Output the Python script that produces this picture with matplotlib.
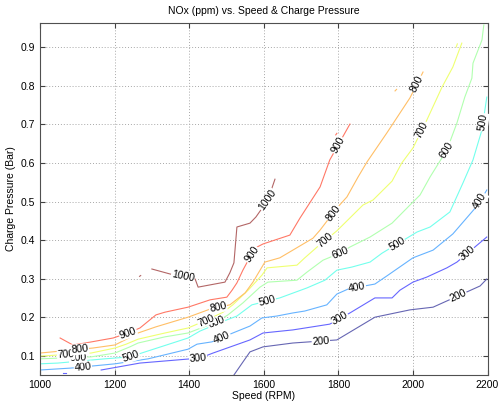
import numpy as np
import matplotlib
matplotlib.use("Agg")
import matplotlib.pyplot as plt

plt.rcParams['font.family'] = ['Liberation Sans', 'DejaVu Sans']

# NOx iso-lines (ppm) traced over the speed / charge-pressure map
levels = [200, 300, 400, 500, 600, 700, 800, 900, 1000]

speed_200 = [1520, 1545, 1563, 1598, 1678, 1796, 1898, 1992, 2054, 2180, 2198]
press_200 = [0.050, 0.085, 0.110, 0.123, 0.133, 0.141, 0.200, 0.219, 0.226, 0.281, 0.299]

speed_300 = [1164, 1268, 1429, 1464, 1563, 1598, 1678, 1777, 1831, 1898, 1944, 1965, 2000, 2037, 2091, 2118, 2198]
press_300 = [0.063, 0.081, 0.094, 0.107, 0.141, 0.159, 0.167, 0.182, 0.211, 0.250, 0.250, 0.270, 0.291, 0.304, 0.328, 0.343, 0.408]

speed_400 = [1000, 1083, 1201, 1290, 1397, 1421, 1461, 1517, 1563, 1595, 1635, 1678, 1710, 1769, 1796, 1826, 1898, 1930, 2000, 2054, 2107, 2174, 2198]
press_400 = [0.063, 0.068, 0.079, 0.092, 0.117, 0.130, 0.136, 0.159, 0.177, 0.198, 0.203, 0.211, 0.216, 0.232, 0.260, 0.273, 0.286, 0.307, 0.354, 0.374, 0.416, 0.491, 0.530]

speed_500 = [1000, 1048, 1174, 1241, 1282, 1397, 1429, 1501, 1528, 1568, 1643, 1716, 1764, 1796, 1836, 1885, 1917, 2011, 2046, 2099, 2134, 2161, 2185, 2198]
press_500 = [0.079, 0.081, 0.092, 0.097, 0.110, 0.146, 0.164, 0.193, 0.203, 0.232, 0.250, 0.276, 0.296, 0.322, 0.330, 0.343, 0.366, 0.421, 0.434, 0.473, 0.548, 0.608, 0.686, 0.771]

speed_600 = [1000, 1137, 1201, 1241, 1263, 1335, 1397, 1472, 1504, 1544, 1590, 1611, 1689, 1716, 1759, 1804, 1831, 1885, 1944, 1992, 2019, 2046, 2091, 2118, 2139, 2158, 2161, 2185, 2190]
press_600 = [0.092, 0.097, 0.107, 0.123, 0.133, 0.149, 0.159, 0.187, 0.206, 0.237, 0.278, 0.291, 0.296, 0.317, 0.348, 0.366, 0.382, 0.408, 0.444, 0.491, 0.517, 0.564, 0.634, 0.704, 0.771, 0.820, 0.859, 0.919, 0.958]

speed_700 = [1000, 1137, 1201, 1231, 1263, 1335, 1397, 1448, 1491, 1517, 1558, 1595, 1609, 1689, 1710, 1743, 1796, 1866, 1893, 1944, 1970, 2000, 2037, 2078, 2107, 2131]
press_700 = [0.099, 0.107, 0.120, 0.130, 0.143, 0.159, 0.172, 0.193, 0.213, 0.232, 0.270, 0.309, 0.328, 0.335, 0.354, 0.382, 0.424, 0.491, 0.504, 0.553, 0.600, 0.639, 0.711, 0.797, 0.849, 0.911]

speed_800 = [1000, 1142, 1201, 1228, 1263, 1311, 1397, 1456, 1509, 1550, 1571, 1603, 1643, 1678, 1732, 1751, 1796, 1823, 1853, 1877, 1930, 1992, 2027]
press_800 = [0.107, 0.120, 0.128, 0.141, 0.159, 0.175, 0.200, 0.221, 0.232, 0.263, 0.291, 0.343, 0.354, 0.374, 0.405, 0.426, 0.483, 0.512, 0.564, 0.603, 0.678, 0.769, 0.836]

speed_900 = [1054, 1088, 1121, 1196, 1236, 1268, 1311, 1335, 1397, 1456, 1501, 1515, 1528, 1544, 1563, 1582, 1598, 1670, 1697, 1751, 1777, 1831]
press_900 = [0.146, 0.128, 0.133, 0.146, 0.159, 0.172, 0.206, 0.213, 0.226, 0.245, 0.252, 0.270, 0.289, 0.322, 0.356, 0.382, 0.390, 0.413, 0.457, 0.538, 0.608, 0.701]

speed_1000 = [1300, 1349, 1416, 1424, 1496, 1509, 1520, 1528, 1563, 1579, 1611, 1630]
press_1000 = [0.325, 0.312, 0.299, 0.278, 0.291, 0.315, 0.341, 0.434, 0.444, 0.460, 0.504, 0.558]

# small isolated fragments: (level, speeds, pressures)
fragments = [
    (300, [1062, 1070], [0.055, 0.055]),
    (700, [2116, 2119], [0.901, 0.909]),
    (800, [1952, 1956], [0.787, 0.791]),
    (900, [1793, 1796], [0.673, 0.677]),
    (1000, [1267, 1270], [0.306, 0.308]),
]

lines = {
    200: (speed_200, press_200),
    300: (speed_300, press_300),
    400: (speed_400, press_400),
    500: (speed_500, press_500),
    600: (speed_600, press_600),
    700: (speed_700, press_700),
    800: (speed_800, press_800),
    900: (speed_900, press_900),
    1000: (speed_1000, press_1000),
}

# speeds at which each level carries an inline label
label_speeds = {
    200: [1753, 2121],
    300: [1424, 1804, 2145],
    400: [1115, 1488, 1850, 2180],
    500: [1244, 1609, 1957, 2188],
    600: [1102, 1472, 1804, 2091],
    700: [1070, 1445, 1764, 2024],
    800: [1107, 1477, 1786, 2011],
    900: [1236, 1568, 1799],
    1000: [1383, 1611],
}

jet = plt.cm.jet(np.linspace(0, 1, len(levels)))[:, :3]
colors = {lv: 0.6 * c + 0.4 for lv, c in zip(levels, jet)}

fig = plt.figure(figsize=(4.98, 4.09), dpi=100)
ax = fig.add_axes([0.0803, 0.0831, 0.8987, 0.8614])

for lv in levels:
    s, p = lines[lv]
    ax.plot(s, p, color=colors[lv], lw=0.8, zorder=2)
for lv, s, p in fragments:
    ax.plot(s, p, color=colors[lv], lw=0.8, zorder=2)

ax.set_xlim(1000, 2200)
ax.set_ylim(0.05, 0.964)
fig.canvas.draw()

for lv in levels:
    s = np.asarray(lines[lv][0], float)
    p = np.asarray(lines[lv][1], float)
    for xs in label_speeds[lv]:
        yp = np.interp(xs, s, p)
        i = np.clip(np.searchsorted(s, xs), 1, len(s) - 1)
        a = ax.transData.transform((s[i - 1], p[i - 1]))
        b = ax.transData.transform((s[i], p[i]))
        ang = np.degrees(np.arctan2(b[1] - a[1], b[0] - a[0]))
        if ang > 90:
            ang -= 180
        if ang < -90:
            ang += 180
        ax.text(xs, yp, str(lv), fontsize=7.5, rotation=ang,
                rotation_mode='anchor', ha='center', va='center',
                color='black', zorder=4,
                bbox=dict(boxstyle='square,pad=0.05', fc='white', ec='none'))

ax.set_xticks([1000, 1200, 1400, 1600, 1800, 2000, 2200])
ax.set_yticks([0.1, 0.2, 0.3, 0.4, 0.5, 0.6, 0.7, 0.8, 0.9])
ax.grid(True, linestyle=(0, (1, 2)), color='#a8a8a8', lw=0.7, zorder=0)
ax.tick_params(direction='in', length=3.5, labelsize=7.5, top=True, right=True,
               colors='#404040', labelcolor='black')
for sp in ax.spines.values():
    sp.set_color('#505050')
    sp.set_linewidth(0.8)

ax.set_xlabel('Speed (RPM)', fontsize=7.5, labelpad=1)
ax.set_ylabel('Charge Pressure (Bar)', fontsize=7.5, labelpad=3)
ax.set_title('NOx (ppm) vs. Speed & Charge Pressure', fontsize=7.5, pad=6)

fig.savefig('out.png', dpi=100)
